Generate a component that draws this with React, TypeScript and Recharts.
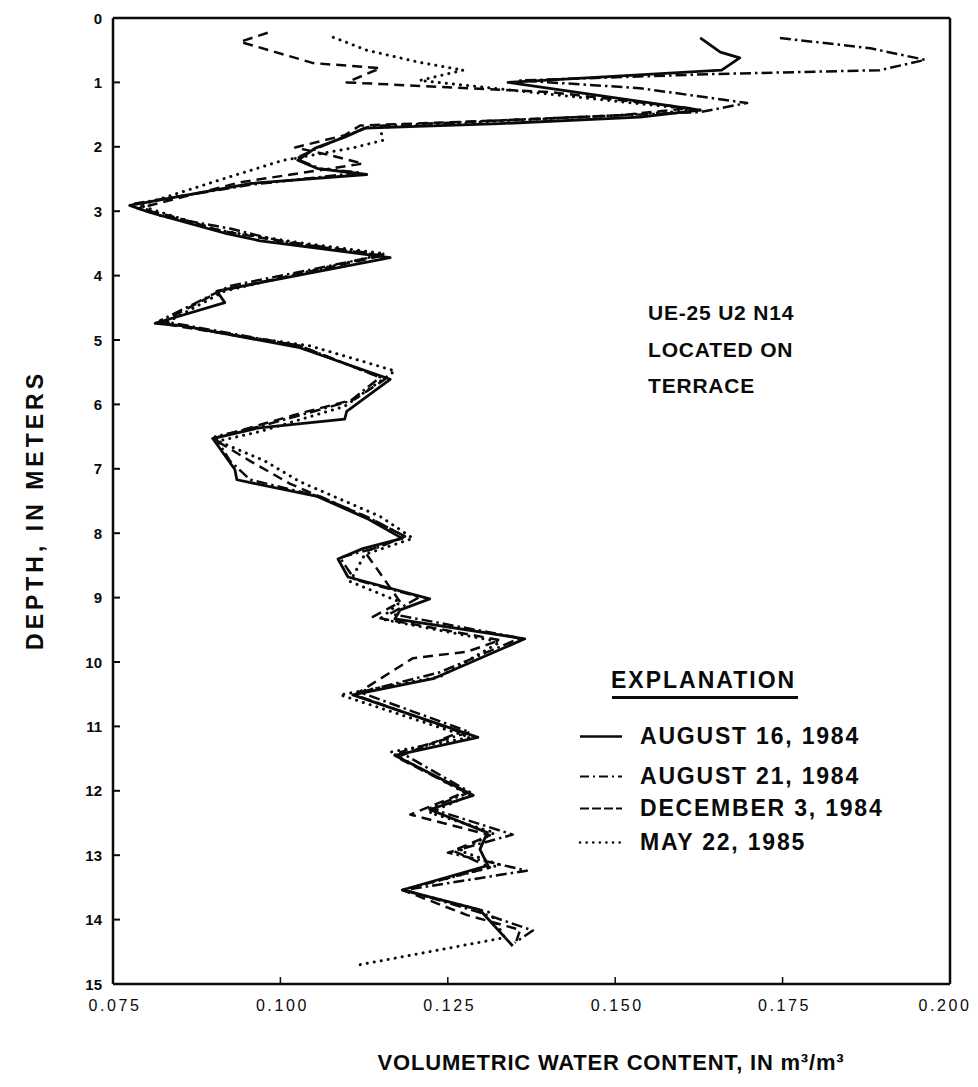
import React from 'react';
import { ScatterChart, Scatter, XAxis, YAxis } from 'recharts';

// ---- axis ticks ----
const xTicks = [0.075, 0.1, 0.125, 0.15, 0.175, 0.2];
const xTickLabels = ['0.075', '0.100', '0.125', '0.150', '0.175', '0.200'];
const yTicks = [0, 1, 2, 3, 4, 5, 6, 7, 8, 9, 10, 11, 12, 13, 14, 15];

// ---- series: w = volumetric water content (m3/m3), d = depth (m) ----
const aug16_1984 = [
  { w: 0.1627, d: 0.31 }, { w: 0.1657, d: 0.53 }, { w: 0.1686, d: 0.62 }, { w: 0.1659, d: 0.81 },
  { w: 0.134, d: 1.0 }, { w: 0.1627, d: 1.43 }, { w: 0.1537, d: 1.54 }, { w: 0.1328, d: 1.64 },
  { w: 0.1126, d: 1.71 }, { w: 0.1096, d: 1.85 }, { w: 0.1052, d: 2.02 }, { w: 0.1026, d: 2.21 },
  { w: 0.1056, d: 2.34 }, { w: 0.1129, d: 2.43 }, { w: 0.0955, d: 2.57 }, { w: 0.0775, d: 2.91 },
  { w: 0.0805, d: 3.02 }, { w: 0.092, d: 3.35 }, { w: 0.097, d: 3.46 }, { w: 0.1164, d: 3.72 },
  { w: 0.0905, d: 4.24 }, { w: 0.0917, d: 4.42 }, { w: 0.0813, d: 4.74 }, { w: 0.0855, d: 4.78 },
  { w: 0.1029, d: 5.12 }, { w: 0.1164, d: 5.61 }, { w: 0.1099, d: 6.11 }, { w: 0.1096, d: 6.23 },
  { w: 0.0965, d: 6.37 }, { w: 0.0899, d: 6.53 }, { w: 0.0932, d: 7.01 }, { w: 0.0935, d: 7.17 },
  { w: 0.1055, d: 7.43 }, { w: 0.1129, d: 7.77 }, { w: 0.1182, d: 8.08 }, { w: 0.1123, d: 8.24 },
  { w: 0.1086, d: 8.4 }, { w: 0.1101, d: 8.68 }, { w: 0.1223, d: 9.02 }, { w: 0.1179, d: 9.19 },
  { w: 0.1171, d: 9.33 }, { w: 0.1365, d: 9.64 }, { w: 0.1228, d: 10.26 }, { w: 0.1108, d: 10.51 },
  { w: 0.1295, d: 11.17 }, { w: 0.1171, d: 11.45 }, { w: 0.1288, d: 12.07 }, { w: 0.1223, d: 12.29 },
  { w: 0.1309, d: 12.65 }, { w: 0.1298, d: 12.91 }, { w: 0.131, d: 13.16 }, { w: 0.1182, d: 13.54 },
  { w: 0.1298, d: 13.85 }, { w: 0.1347, d: 14.41 },
];

const aug21_1984 = [
  { w: 0.1746, d: 0.31 }, { w: 0.1881, d: 0.47 }, { w: 0.1963, d: 0.65 }, { w: 0.1895, d: 0.81 },
  { w: 0.1646, d: 0.87 }, { w: 0.1358, d: 0.97 }, { w: 0.1537, d: 1.09 }, { w: 0.1697, d: 1.32 },
  { w: 0.1627, d: 1.46 }, { w: 0.1328, d: 1.59 }, { w: 0.1134, d: 1.68 }, { w: 0.1096, d: 1.84 },
  { w: 0.1056, d: 2.02 }, { w: 0.1022, d: 2.18 }, { w: 0.1059, d: 2.34 }, { w: 0.1119, d: 2.4 },
  { w: 0.0955, d: 2.59 }, { w: 0.0783, d: 2.88 }, { w: 0.082, d: 3.07 }, { w: 0.0925, d: 3.27 },
  { w: 0.0999, d: 3.46 }, { w: 0.1153, d: 3.68 }, { w: 0.0925, d: 4.16 }, { w: 0.082, d: 4.7 },
  { w: 0.1029, d: 5.09 }, { w: 0.1149, d: 5.58 }, { w: 0.1104, d: 5.95 }, { w: 0.097, d: 6.34 },
  { w: 0.0902, d: 6.5 }, { w: 0.0925, d: 6.88 }, { w: 0.0955, d: 7.17 }, { w: 0.1059, d: 7.43 },
  { w: 0.1134, d: 7.77 }, { w: 0.1186, d: 8.05 }, { w: 0.1149, d: 8.21 }, { w: 0.1089, d: 8.38 },
  { w: 0.1111, d: 8.72 }, { w: 0.1208, d: 8.99 }, { w: 0.1164, d: 9.25 }, { w: 0.1358, d: 9.63 },
  { w: 0.1238, d: 10.16 }, { w: 0.1119, d: 10.47 }, { w: 0.1283, d: 11.09 }, { w: 0.1179, d: 11.4 },
  { w: 0.1283, d: 12.02 }, { w: 0.1223, d: 12.27 }, { w: 0.1347, d: 12.68 }, { w: 0.125, d: 12.96 },
  { w: 0.1368, d: 13.24 }, { w: 0.1186, d: 13.54 }, { w: 0.1298, d: 13.89 }, { w: 0.1377, d: 14.17 },
  { w: 0.135, d: 14.36 },
];

const dec3_1984 = [
  { w: 0.0981, d: 0.23 }, { w: 0.094, d: 0.37 }, { w: 0.1049, d: 0.7 }, { w: 0.1149, d: 0.78 },
  { w: 0.1099, d: 1.0 }, { w: 0.1403, d: 1.15 }, { w: 0.1612, d: 1.4 }, { w: 0.1507, d: 1.51 },
  { w: 0.1328, d: 1.59 }, { w: 0.1119, d: 1.67 }, { w: 0.1096, d: 1.82 }, { w: 0.1022, d: 2.01 },
  { w: 0.1074, d: 2.13 }, { w: 0.1123, d: 2.26 }, { w: 0.1029, d: 2.41 }, { w: 0.094, d: 2.55 },
  { w: 0.0787, d: 2.96 }, { w: 0.0835, d: 3.07 }, { w: 0.091, d: 3.3 }, { w: 0.1014, d: 3.49 },
  { w: 0.1153, d: 3.69 }, { w: 0.091, d: 4.24 }, { w: 0.082, d: 4.74 }, { w: 0.1029, d: 5.09 },
  { w: 0.1156, d: 5.61 }, { w: 0.1111, d: 5.92 }, { w: 0.1029, d: 6.14 }, { w: 0.0955, d: 6.36 },
  { w: 0.0899, d: 6.53 }, { w: 0.0955, d: 6.88 }, { w: 0.1014, d: 7.23 }, { w: 0.1134, d: 7.77 },
  { w: 0.1186, d: 8.05 }, { w: 0.1126, d: 8.29 }, { w: 0.1144, d: 8.55 }, { w: 0.1179, d: 9.07 },
  { w: 0.1138, d: 9.3 }, { w: 0.1328, d: 9.66 }, { w: 0.1279, d: 9.84 }, { w: 0.1198, d: 9.94 },
  { w: 0.1111, d: 10.51 }, { w: 0.1268, d: 11.09 }, { w: 0.1174, d: 11.48 }, { w: 0.1276, d: 12.02 },
  { w: 0.1194, d: 12.37 }, { w: 0.1313, d: 12.69 }, { w: 0.1258, d: 12.93 }, { w: 0.1313, d: 13.19 },
  { w: 0.1182, d: 13.54 }, { w: 0.1279, d: 13.93 }, { w: 0.1358, d: 14.16 }, { w: 0.135, d: 14.41 },
];

const may22_1985 = [
  { w: 0.1079, d: 0.3 }, { w: 0.1129, d: 0.5 }, { w: 0.1208, d: 0.69 }, { w: 0.1273, d: 0.81 },
  { w: 0.1208, d: 0.97 }, { w: 0.1418, d: 1.2 }, { w: 0.1627, d: 1.43 }, { w: 0.1507, d: 1.51 },
  { w: 0.1328, d: 1.6 }, { w: 0.1149, d: 1.7 }, { w: 0.1153, d: 1.9 }, { w: 0.1111, d: 2.01 },
  { w: 0.1004, d: 2.21 }, { w: 0.0917, d: 2.49 }, { w: 0.079, d: 2.91 }, { w: 0.0828, d: 3.04 },
  { w: 0.091, d: 3.3 }, { w: 0.1029, d: 3.49 }, { w: 0.1156, d: 3.66 }, { w: 0.0917, d: 4.24 },
  { w: 0.0828, d: 4.74 }, { w: 0.094, d: 4.94 }, { w: 0.1044, d: 5.09 }, { w: 0.1171, d: 5.48 },
  { w: 0.1149, d: 5.64 }, { w: 0.1096, d: 6.03 }, { w: 0.097, d: 6.42 }, { w: 0.0907, d: 6.57 },
  { w: 0.0977, d: 6.88 }, { w: 0.1029, d: 7.2 }, { w: 0.1149, d: 7.74 }, { w: 0.1198, d: 8.08 },
  { w: 0.1126, d: 8.33 }, { w: 0.1104, d: 8.75 }, { w: 0.1179, d: 9.07 }, { w: 0.1149, d: 9.33 },
  { w: 0.1328, d: 9.69 }, { w: 0.1238, d: 10.23 }, { w: 0.1089, d: 10.51 }, { w: 0.1283, d: 11.17 },
  { w: 0.1164, d: 11.4 }, { w: 0.1283, d: 12.07 }, { w: 0.1223, d: 12.34 }, { w: 0.132, d: 12.65 },
  { w: 0.1268, d: 12.93 }, { w: 0.1328, d: 13.15 }, { w: 0.1182, d: 13.54 }, { w: 0.1313, d: 13.89 },
  { w: 0.1335, d: 14.28 }, { w: 0.1119, d: 14.7 },
];

const seriesNames = ['AUGUST 16, 1984', 'AUGUST 21, 1984', 'DECEMBER 3, 1984', 'MAY 22, 1985'];
const annotationLines = ['UE-25 U2 N14', 'LOCATED ON', 'TERRACE'];

const FONT = '"Liberation Sans", Arial, Helvetica, sans-serif';
const INK = '#0a0a0a';

const styles = [
  { strokeWidth: 2.8, strokeDasharray: undefined as string | undefined, linecap: 'butt' },
  { strokeWidth: 2.5, strokeDasharray: '11 4 2.5 4', linecap: 'butt' },
  { strokeWidth: 2.5, strokeDasharray: '10 6', linecap: 'butt' },
  { strokeWidth: 3, strokeDasharray: '0.1 7', linecap: 'round' },
];

const NoShape = () => <g />;

const YTick = (props: any) => {
  const { x, y, payload } = props;
  const axisX = x + 10;
  return (
    <g>
      <line x1={axisX} y1={y} x2={axisX + 7} y2={y} stroke={INK} strokeWidth={2} />
      <text x={x - 1} y={y} textAnchor="end" dominantBaseline="central" fontFamily={FONT} fontWeight={700} fontSize={15} fill={INK}>
        {payload.value}
      </text>
    </g>
  );
};

const XTick = (props: any) => {
  const { x, y, payload, index } = props;
  const axisY = y - 12;
  const isLast = index === xTickLabels.length - 1;
  return (
    <g>
      <line x1={x} y1={axisY} x2={x} y2={axisY - 7} stroke={INK} strokeWidth={1.5} />
      <text x={isLast ? x - 5 : x + 2} y={y + 9} textAnchor="middle" dominantBaseline="central" fontFamily={FONT} fontSize={16} letterSpacing={2.6} fill={INK}>
        {xTickLabels[index] ?? payload.value}
      </text>
    </g>
  );
};

const LegendSample = ({ i }: { i: number }) => {
  const s = styles[i];
  return (
    <svg width={46} height={10} style={{ display: 'block' }}>
      <line x1={2} y1={5} x2={44} y2={5} stroke={INK} strokeWidth={s.strokeWidth * 0.85}
        strokeDasharray={i === 1 ? '9 4 2 4' : i === 2 ? '9 3' : i === 3 ? '0.1 6.5' : undefined}
        strokeLinecap={s.linecap as any} />
    </svg>
  );
};

export default function App() {
  const data = [aug16_1984, aug21_1984, dec3_1984, may22_1985];
  const legendY = [736, 776, 808, 842];
  return (
    <div style={{ position: 'absolute', left: 0, top: 0, width: 978, height: 1087, background: '#fff', fontFamily: FONT, color: INK }}>
      <ScatterChart width={978} height={1087} margin={{ top: 17, right: 27, bottom: 63, left: 53 }}>
        <XAxis xAxisId="b" dataKey="w" type="number" domain={[0.075, 0.2]} ticks={xTicks} allowDataOverflow
          orientation="bottom" height={40} tickSize={0} tickMargin={12} tickLine={false}
          axisLine={{ stroke: INK, strokeWidth: 2.5 }} tick={<XTick />} interval={0} />
        <XAxis xAxisId="t" type="number" domain={[0.075, 0.2]} orientation="top" height={1}
          tick={false} tickLine={false} axisLine={{ stroke: INK, strokeWidth: 2.5 }} />
        <YAxis yAxisId="l" dataKey="d" type="number" domain={[0, 15]} ticks={yTicks} reversed allowDataOverflow
          width={60} tickSize={0} tickMargin={10} tickLine={false}
          axisLine={{ stroke: INK, strokeWidth: 2.5 }} tick={<YTick />} interval={0} />
        <YAxis yAxisId="r" type="number" domain={[0, 15]} orientation="right" width={1} reversed
          tick={false} tickLine={false} axisLine={{ stroke: INK, strokeWidth: 2.5 }} />
        {data.map((series, i) => (
          <Scatter key={seriesNames[i]} name={seriesNames[i]} data={series} xAxisId="b" yAxisId="l"
            fill="none" shape={<NoShape />} isAnimationActive={false}
            line={{ stroke: INK, strokeWidth: styles[i].strokeWidth, strokeDasharray: styles[i].strokeDasharray, strokeLinecap: styles[i].linecap as any, strokeLinejoin: 'round', fill: 'none' }}
            lineJointType="linear" />
        ))}
      </ScatterChart>

      {/* y-axis title */}
      <div style={{ position: 'absolute', left: 35, top: 510, transform: 'translate(-50%, -50%) rotate(-90deg)', whiteSpace: 'nowrap', fontWeight: 700, fontSize: 23, letterSpacing: 4 }}>
        DEPTH, IN METERS
      </div>
      {/* x-axis title */}
      <div style={{ position: 'absolute', left: 611, top: 1063, transform: 'translate(-50%, -50%)', whiteSpace: 'nowrap', fontWeight: 700, fontSize: 22, letterSpacing: 0.8 }}>
        VOLUMETRIC WATER CONTENT, IN m³/m³
      </div>

      {/* annotation */}
      {annotationLines.map((t, i) => (
        <div key={t} style={{ position: 'absolute', left: 648, top: [312, 349, 385][i], transform: 'translateY(-50%)', whiteSpace: 'nowrap', fontWeight: 700, fontSize: 21, letterSpacing: 0.8, lineHeight: 1 }}>
          {t}
        </div>
      ))}

      {/* explanation / legend */}
      <div style={{ position: 'absolute', left: 611, top: 680, transform: 'translateY(-50%)', whiteSpace: 'nowrap', fontWeight: 700, fontSize: 23, letterSpacing: 2, lineHeight: 1 }}>
        EXPLANATION
      </div>
      <div style={{ position: 'absolute', left: 612, top: 696, width: 186, height: 2.5, background: INK }} />
      {seriesNames.map((name, i) => (
        <div key={name} style={{ position: 'absolute', left: 578, top: legendY[i], transform: 'translateY(-50%)', display: 'flex', alignItems: 'center', whiteSpace: 'nowrap' }}>
          <LegendSample i={i} />
          <span style={{ marginLeft: 16, fontWeight: 700, fontSize: 23, letterSpacing: 1.8, lineHeight: 1 }}>{name}</span>
        </div>
      ))}
    </div>
  );
}
